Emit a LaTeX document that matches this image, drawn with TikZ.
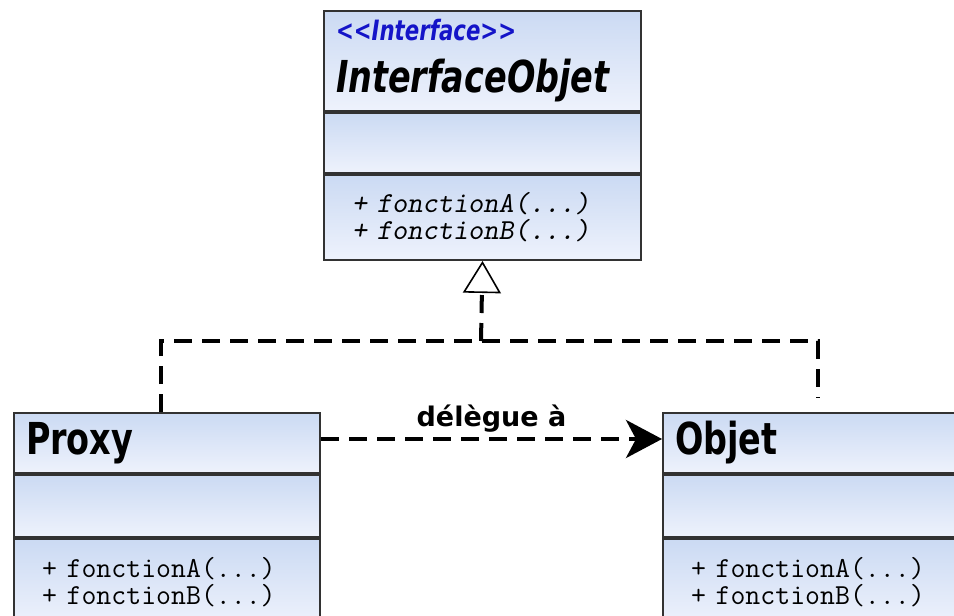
\documentclass[tikz,border=0pt]{standalone}
\usepackage{fontspec}
\usepackage{tikz}
\usetikzlibrary{arrows.meta,positioning}

\newfontfamily\headfont[FakeStretch=0.76]{DejaVu Sans}
\newfontfamily\labelfont{DejaVu Sans}

\definecolor{umlblue}{RGB}{203,218,243}
\definecolor{umlpale}{RGB}{238,242,252}
\definecolor{umlline}{RGB}{50,50,50}
\definecolor{stereoblue}{RGB}{20,20,200}

\begin{document}
\begin{tikzpicture}[x=1pt, y=-1pt, thick, auto]

\tikzstyle{compart} = [
    rectangle, draw=umlline, line width=2pt, top color=umlblue, bottom color=umlpale, inner ysep=0pt]
\tikzstyle{classhead} = [compart, inner xsep=12pt, align=left, font=\headfont\bfseries\fontsize{44}{52}\selectfont]
\tikzstyle{classmeth} = [compart, inner xsep=28pt, align=left, font=\ttfamily\fontsize{29}{27}\selectfont]
\tikzstyle{dashline} = [line width=4pt, dash pattern=on 18pt off 10pt]

\useasboundingbox (0,0) rectangle (954,616);

% interface
\node[classhead, text width=293pt, minimum height=100pt, anchor=north west] at (323,10) (ifaceh)
  {{\fontsize{28}{30}\selectfont\color{stereoblue}\itshape <\kern0pt<Interface>\kern0pt>}\\\itshape InterfaceObjet};
\node[compart, minimum width=317pt, minimum height=60pt, below=0pt of ifaceh] (ifacea) {};
\node[classmeth, text width=261pt, minimum height=85pt, below=0pt of ifacea] (ifacem)
  {\slshape + fonctionA(...)\\\slshape + fonctionB(...)};

% proxy
\node[classhead, text width=282pt, minimum height=60pt, anchor=north west] at (13,412) (proxyh) {Proxy};
\node[compart, minimum width=306pt, minimum height=62pt, below=0pt of proxyh] (proxya) {};
\node[classmeth, text width=250pt, minimum height=86pt, below=0pt of proxya] (proxym)
  {+ fonctionA(...)\\+ fonctionB(...)};

% objet
\node[classhead, text width=286pt, minimum height=60pt, anchor=north west] at (662,412) (objeth) {Objet};
\node[compart, minimum width=310pt, minimum height=62pt, below=0pt of objeth] (objeta) {};
\node[classmeth, text width=254pt, minimum height=86pt, below=0pt of objeta] (objetm)
  {+ fonctionA(...)\\+ fonctionB(...)};

\coordinate (join) at (481,341);

\draw[dashline] ([xshift=-6pt]proxyh.north) |- (join) -| ([yshift=14pt]objeth.north);
\draw[dashline, -{Triangle[length=32pt, width=38pt, fill=white, line width=1.6pt]}]
  (join) -- (ifacem.south);

\draw[dashline, -{Stealth[length=36pt, width=38pt, inset=10pt]}]
  ([yshift=4pt]proxyh.east) -- node[above=1pt, font=\labelfont\bfseries\fontsize{27}{29}\selectfont] (deleg) {délègue à}
  ([yshift=4pt]objeth.west);

\end{tikzpicture}
\end{document}
